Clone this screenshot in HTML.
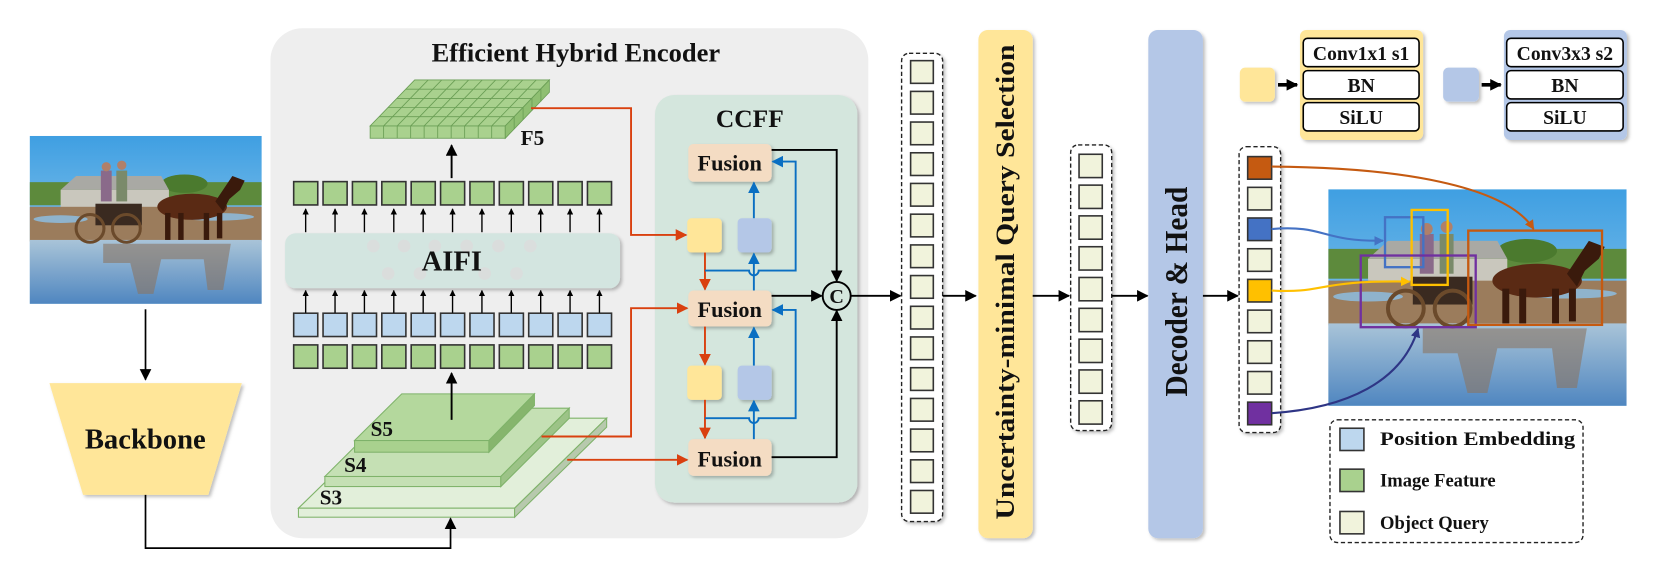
<!DOCTYPE html>
<html><head><meta charset="utf-8"><style>
html,body{margin:0;padding:0;background:#fff;}
svg{display:block;}
text{font-family:"Liberation Serif",serif;font-weight:bold;fill:#111;}
</style></head><body>
<svg width="1663" height="563" viewBox="0 0 1568 531" preserveAspectRatio="none" xmlns="http://www.w3.org/2000/svg">
<defs>
<marker id="ak" viewBox="0 0 10 10" refX="9" refY="5" markerWidth="6" markerHeight="6" orient="auto-start-reverse" markerUnits="userSpaceOnUse"><path d="M0,0L10,5L0,10z" fill="#000"/></marker>
<marker id="akb" viewBox="0 0 10 10" refX="9" refY="5" markerWidth="11" markerHeight="11" orient="auto" markerUnits="userSpaceOnUse"><path d="M0,0L10,5L0,10z" fill="#000"/></marker>
<marker id="ar" viewBox="0 0 10 10" refX="9" refY="5" markerWidth="11" markerHeight="11" orient="auto" markerUnits="userSpaceOnUse"><path d="M0,0L10,5L0,10z" fill="#d9400f"/></marker>
<marker id="ab" viewBox="0 0 10 10" refX="9" refY="5" markerWidth="11" markerHeight="11" orient="auto" markerUnits="userSpaceOnUse"><path d="M0,0L10,5L0,10z" fill="#0a6fc2"/></marker>
<marker id="ao" viewBox="0 0 10 10" refX="9" refY="5" markerWidth="9" markerHeight="9" orient="auto" markerUnits="userSpaceOnUse"><path d="M0,0L10,5L0,10z" fill="#c55a11"/></marker>
<marker id="abl" viewBox="0 0 10 10" refX="9" refY="5" markerWidth="9" markerHeight="9" orient="auto" markerUnits="userSpaceOnUse"><path d="M0,0L10,5L0,10z" fill="#4472c4"/></marker>
<marker id="ay" viewBox="0 0 10 10" refX="9" refY="5" markerWidth="9" markerHeight="9" orient="auto" markerUnits="userSpaceOnUse"><path d="M0,0L10,5L0,10z" fill="#ffc000"/></marker>
<marker id="ap" viewBox="0 0 10 10" refX="9" refY="5" markerWidth="9" markerHeight="9" orient="auto" markerUnits="userSpaceOnUse"><path d="M0,0L10,5L0,10z" fill="#2e3585"/></marker>
<linearGradient id="sky" x1="0" y1="0" x2="0" y2="1"><stop offset="0" stop-color="#3f9fe2"/><stop offset="1" stop-color="#a5d3ee"/></linearGradient>
<linearGradient id="water" x1="0" y1="0" x2="0" y2="1"><stop offset="0" stop-color="#a9c4d8"/><stop offset="1" stop-color="#4f86c0"/></linearGradient>
<filter id="sh" x="-10%" y="-10%" width="130%" height="130%"><feDropShadow dx="2" dy="2" stdDeviation="1.5" flood-color="#000" flood-opacity="0.25"/></filter>
<g id="scene">
<rect x="0" y="0" width="300" height="218" fill="url(#sky)"/>
<rect x="0" y="60" width="300" height="30" fill="#5d8a3c"/>
<ellipse cx="200" cy="62" rx="30" ry="12" fill="#4b7a2e"/>
<polygon points="40,70 60,52 170,52 180,70" fill="#a9a9a4"/>
<rect x="40" y="70" width="140" height="25" fill="#c9c7bd"/>
<rect x="0" y="92" width="300" height="45" fill="#9b7c5c"/>
<ellipse cx="240" cy="105" rx="50" ry="5" fill="#8fb3cc"/>
<ellipse cx="40" cy="108" rx="35" ry="5" fill="#8fb3cc"/>
<rect x="0" y="135" width="300" height="83" fill="url(#water)"/>
<path d="M95,140 L260,140 L250,200 L230,200 L225,160 L170,160 L160,205 L140,205 L130,165 L95,165z" fill="#8a7462" opacity="0.6"/>
<rect x="85" y="88" width="60" height="28" fill="#3a2a20"/>
<circle cx="78" cy="120" r="18" fill="none" stroke="#6b4a2b" stroke-width="4"/>
<circle cx="125" cy="120" r="18" fill="none" stroke="#6b4a2b" stroke-width="4"/>
<rect x="92" y="45" width="14" height="40" fill="#8a6a8a"/>
<rect x="112" y="45" width="14" height="40" fill="#7a8a6a"/>
<circle cx="99" cy="40" r="6" fill="#b0806a"/><circle cx="119" cy="38" r="6" fill="#b0806a"/>
<ellipse cx="210" cy="92" rx="45" ry="17" fill="#5a2a14"/>
<path d="M240,85 L262,52 L278,58 L272,70 L258,82 L250,98z" fill="#3a1a0c"/>
<rect x="175" y="100" width="7" height="35" fill="#3a1a0c"/><rect x="192" y="100" width="7" height="35" fill="#3a1a0c"/>
<rect x="225" y="100" width="7" height="35" fill="#3a1a0c"/><rect x="242" y="100" width="7" height="33" fill="#3a1a0c"/>
</g>
</defs>

<!-- left photo -->
<svg x="28" y="128.2" width="218.8" height="158.4" viewBox="0 0 300 218" preserveAspectRatio="none"><use href="#scene"/></svg>
<line x1="137.2" y1="291.7" x2="137.2" y2="358" stroke="#000" stroke-width="1.6" marker-end="url(#akb)"/>
<polygon points="46.6,361.4 228,361.4 196.4,466.7 78.3,466.7" fill="#ffe699" filter="url(#sh)"/>
<text x="137" y="423" font-size="27" text-anchor="middle">Backbone</text>

<!-- encoder -->
<rect x="255" y="26.7" width="563.7" height="480.9" rx="30" fill="#eeeeee"/>
<text x="543" y="58" font-size="25" text-anchor="middle">Efficient Hybrid Encoder</text>

<!-- F5 -->
<g stroke="#6a9e55" stroke-width="0.8">
<polygon points="349,118.8 476.4,118.8 518,75.4 391,75.4" fill="#a9d18e"/>
<rect x="349" y="118.8" width="127.4" height="11.6" fill="#a9d18e"/>
<polygon points="476.4,118.8 518,75.4 518,87 476.4,130.4" fill="#8fbf72"/>
<g fill="none">
<path d="M361.7,118.8L403.7,75.4M374.5,118.8L416.5,75.4M387.2,118.8L429.2,75.4M399.9,118.8L441.9,75.4M412.7,118.8L454.7,75.4M425.4,118.8L467.4,75.4M438.1,118.8L480.1,75.4M450.9,118.8L492.9,75.4M463.6,118.8L505.6,75.4"/>
<path d="M357.4,110.1L484.8,110.1M365.8,101.4L493.2,101.4M374.2,92.8L501.6,92.8M382.6,84.1L510,84.1"/>
<path d="M361.7,118.8V130.4M374.5,118.8V130.4M387.2,118.8V130.4M399.9,118.8V130.4M412.7,118.8V130.4M425.4,118.8V130.4M438.1,118.8V130.4M450.9,118.8V130.4M463.6,118.8V130.4"/>
<path d="M484.8,110.1V121.7M493.2,101.4V113M501.6,92.8V104.4M510,84.1V95.7"/>
</g></g>
<text x="502" y="137" font-size="20" text-anchor="middle">F5</text>
<line x1="425.8" y1="168" x2="425.8" y2="137" stroke="#000" stroke-width="1.8" marker-end="url(#akb)"/>

<!-- token rows -->
<g stroke="#333" stroke-width="1.5">
<g fill="#a9d18e">
<rect x="276.9" y="171.3" width="22.7" height="22"/><rect x="304.6" y="171.3" width="22.7" height="22"/><rect x="332.3" y="171.3" width="22.7" height="22"/><rect x="360" y="171.3" width="22.7" height="22"/><rect x="387.7" y="171.3" width="22.7" height="22"/><rect x="415.4" y="171.3" width="22.7" height="22"/><rect x="443.1" y="171.3" width="22.7" height="22"/><rect x="470.8" y="171.3" width="22.7" height="22"/><rect x="498.5" y="171.3" width="22.7" height="22"/><rect x="526.2" y="171.3" width="22.7" height="22"/><rect x="553.9" y="171.3" width="22.7" height="22"/>
<rect x="276.9" y="325.3" width="22.7" height="22"/><rect x="304.6" y="325.3" width="22.7" height="22"/><rect x="332.3" y="325.3" width="22.7" height="22"/><rect x="360" y="325.3" width="22.7" height="22"/><rect x="387.7" y="325.3" width="22.7" height="22"/><rect x="415.4" y="325.3" width="22.7" height="22"/><rect x="443.1" y="325.3" width="22.7" height="22"/><rect x="470.8" y="325.3" width="22.7" height="22"/><rect x="498.5" y="325.3" width="22.7" height="22"/><rect x="526.2" y="325.3" width="22.7" height="22"/><rect x="553.9" y="325.3" width="22.7" height="22"/>
</g>
<g fill="#bdd7ee">
<rect x="276.9" y="295.4" width="22.7" height="22"/><rect x="304.6" y="295.4" width="22.7" height="22"/><rect x="332.3" y="295.4" width="22.7" height="22"/><rect x="360" y="295.4" width="22.7" height="22"/><rect x="387.7" y="295.4" width="22.7" height="22"/><rect x="415.4" y="295.4" width="22.7" height="22"/><rect x="443.1" y="295.4" width="22.7" height="22"/><rect x="470.8" y="295.4" width="22.7" height="22"/><rect x="498.5" y="295.4" width="22.7" height="22"/><rect x="526.2" y="295.4" width="22.7" height="22"/><rect x="553.9" y="295.4" width="22.7" height="22"/>
</g></g>
<g stroke="#000" stroke-width="1.3" marker-end="url(#ak)">
<path d="M288.2,219V197"/><path d="M315.9,219V197"/><path d="M343.6,219V197"/><path d="M371.3,219V197"/><path d="M399,219V197"/><path d="M426.7,219V197"/><path d="M454.4,219V197"/><path d="M482.1,219V197"/><path d="M509.8,219V197"/><path d="M537.5,219V197"/><path d="M565.2,219V197"/>
<path d="M288.2,295V274"/><path d="M315.9,295V274"/><path d="M343.6,295V274"/><path d="M371.3,295V274"/><path d="M399,295V274"/><path d="M426.7,295V274"/><path d="M454.4,295V274"/><path d="M482.1,295V274"/><path d="M509.8,295V274"/><path d="M537.5,295V274"/><path d="M565.2,295V274"/>
</g>
<rect x="268.8" y="220" width="315.8" height="51.9" rx="10" fill="#d3e5e0" filter="url(#sh)"/>
<g fill="#dcdcdc" opacity="0.8">
<circle cx="352" cy="232" r="6"/><circle cx="381" cy="232" r="6"/><circle cx="410" cy="232" r="6"/><circle cx="440" cy="232" r="6"/><circle cx="470" cy="232" r="6"/><circle cx="500" cy="232" r="6"/>
<circle cx="366" cy="258" r="6"/><circle cx="396" cy="258" r="6"/><circle cx="457" cy="258" r="6"/><circle cx="487" cy="258" r="6"/>
</g>
<text x="426" y="255" font-size="27" text-anchor="middle">AIFI</text>

<!-- S layers -->
<g stroke="#7fb36a" stroke-width="1">
<polygon points="281.4,479.3 368.5,394.4 572,394.4 485.2,479.3" fill="#e2efda"/>
<rect x="281.4" y="479.3" width="203.8" height="8.5" fill="#e2efda"/>
<polygon points="485.2,479.3 572,394.4 572,402.9 485.2,487.8" fill="#b7c9ad"/>
<polygon points="306.3,449.4 371,385 536.7,385 472.2,449.4" fill="#c5e0b4"/>
<rect x="306.3" y="449.4" width="165.9" height="9.5" fill="#c5e0b4"/>
<polygon points="472.2,449.4 536.7,385 536.7,394.5 472.2,458.9" fill="#9cc387"/>
<polygon points="334.3,415.5 378.8,371.5 503.9,371.5 461,415.5" fill="#b4d89d"/>
<rect x="334.3" y="415.5" width="126.7" height="11" fill="#a9d18e"/>
<polygon points="461,415.5 503.9,371.5 503.9,382.5 461,426.5" fill="#86b56d"/>
</g>
<line x1="425.8" y1="396" x2="425.8" y2="352" stroke="#000" stroke-width="1.8" marker-end="url(#akb)"/>
<polyline points="137.2,466.7 137.2,517 424.8,517 424.8,489" fill="none" stroke="#000" stroke-width="1.6" marker-end="url(#akb)"/>
<text x="360" y="411" font-size="20" text-anchor="middle">S5</text>
<text x="335" y="445" font-size="20" text-anchor="middle">S4</text>
<text x="312" y="476" font-size="20" text-anchor="middle">S3</text>

<!-- CCFF -->
<rect x="617.6" y="89.6" width="190.8" height="384.4" rx="18" fill="#d4e6dd" filter="url(#sh)"/>
<text x="707" y="120" font-size="24" text-anchor="middle">CCFF</text>
<g fill="#f4dcc3" filter="url(#sh)">
<rect x="649" y="135.8" width="78.5" height="35.5" rx="5"/>
<rect x="649" y="274" width="78.5" height="34" rx="5"/>
<rect x="649" y="414.2" width="78.5" height="34.6" rx="5"/>
</g>
<text x="688" y="161" font-size="21" text-anchor="middle">Fusion</text>
<text x="688" y="299" font-size="21" text-anchor="middle">Fusion</text>
<text x="688" y="440" font-size="21" text-anchor="middle">Fusion</text>
<g filter="url(#sh)">
<rect x="648" y="205.8" width="32.5" height="32.4" rx="4" fill="#ffe699"/>
<rect x="695.5" y="205.8" width="32" height="32.4" rx="4" fill="#b4c7e7"/>
<rect x="648" y="344.8" width="32.5" height="32.3" rx="4" fill="#ffe699"/>
<rect x="695.5" y="344.8" width="32" height="32.3" rx="4" fill="#b4c7e7"/>
</g>
<!-- red -->
<g fill="none" stroke="#d9400f" stroke-width="1.8" marker-end="url(#ar)">
<polyline points="500.7,102 595,102 595,221.6 647,221.6"/>
<polyline points="510.6,411.7 595,411.7 595,290.7 648,290.7"/>
<polyline points="534.8,433.7 648,433.7"/>
<polyline points="664.7,238.2 664.7,273"/>
<polyline points="664.7,308 664.7,343.8"/>
<polyline points="664.7,377.1 664.7,413.2"/>
</g>
<!-- blue -->
<g fill="none" stroke="#0a6fc2" stroke-width="1.8" marker-end="url(#ab)">
<polyline points="710.8,205.8 710.8,172.3"/>
<polyline points="710.8,274 710.8,239.2"/>
<path d="M664.7,255.2 H706.3 A4.5,4.5 0 0 0 715.3,255.2 H750.2 V152.4 H728.5"/>
<polyline points="710.8,344.8 710.8,309"/>
<polyline points="710.8,414.2 710.8,378.1"/>
<path d="M664.7,394.4 H706.3 A4.5,4.5 0 0 0 715.3,394.4 H750.2 V292.3 H728.5"/>
</g>
<!-- black to C -->
<g fill="none" stroke="#000" stroke-width="1.8" marker-end="url(#akb)">
<polyline points="727.5,141.4 788.9,141.4 788.9,265"/>
<polyline points="727.5,279 774.7,279"/>
<polyline points="727.5,431.2 788.9,431.2 788.9,293"/>
<polyline points="802.1,279 849,279"/>
</g>
<circle cx="788.9" cy="279.1" r="13.2" fill="#d4e6dd" stroke="#000" stroke-width="1.8"/>
<text x="788.9" y="286" font-size="19" text-anchor="middle">C</text>

<!-- query column 1 -->
<rect x="850.1" y="50.3" width="38.7" height="441.6" rx="7" fill="#fff" stroke="#222" stroke-width="1.3" stroke-dasharray="4,2.5" filter="url(#sh)"/>
<g fill="#f1f3dc" stroke="#333" stroke-width="1.5">
<rect x="858.6" y="57.2" width="21.4" height="21.4"/><rect x="858.6" y="86.2" width="21.4" height="21.4"/><rect x="858.6" y="115.1" width="21.4" height="21.4"/><rect x="858.6" y="144.1" width="21.4" height="21.4"/><rect x="858.6" y="173" width="21.4" height="21.4"/><rect x="858.6" y="202" width="21.4" height="21.4"/><rect x="858.6" y="231" width="21.4" height="21.4"/><rect x="858.6" y="259.9" width="21.4" height="21.4"/><rect x="858.6" y="288.9" width="21.4" height="21.4"/><rect x="858.6" y="317.8" width="21.4" height="21.4"/><rect x="858.6" y="346.8" width="21.4" height="21.4"/><rect x="858.6" y="375.8" width="21.4" height="21.4"/><rect x="858.6" y="404.7" width="21.4" height="21.4"/><rect x="858.6" y="433.7" width="21.4" height="21.4"/><rect x="858.6" y="462.6" width="21.4" height="21.4"/>
</g>
<line x1="888.8" y1="279" x2="920" y2="279" stroke="#000" stroke-width="1.8" marker-end="url(#akb)"/>
<rect x="922.5" y="28.3" width="51.2" height="479.3" rx="9" fill="#ffe699" filter="url(#sh)"/>
<text transform="translate(956,266) rotate(-90)" font-size="25" text-anchor="middle" textLength="448" lengthAdjust="spacingAndGlyphs">Uncertainty-minimal Query Selection</text>
<line x1="973.7" y1="279" x2="1008" y2="279" stroke="#000" stroke-width="1.8" marker-end="url(#akb)"/>

<!-- query column 2 -->
<rect x="1009.5" y="136.7" width="38.7" height="269.4" rx="7" fill="#fff" stroke="#222" stroke-width="1.3" stroke-dasharray="4,2.5" filter="url(#sh)"/>
<g fill="#f1f3dc" stroke="#333" stroke-width="1.5">
<rect x="1017.4" y="145.5" width="21.9" height="22"/><rect x="1017.4" y="174.6" width="21.9" height="22"/><rect x="1017.4" y="203.6" width="21.9" height="22"/><rect x="1017.4" y="232.7" width="21.9" height="22"/><rect x="1017.4" y="261.7" width="21.9" height="22"/><rect x="1017.4" y="290.8" width="21.9" height="22"/><rect x="1017.4" y="319.9" width="21.9" height="22"/><rect x="1017.4" y="348.9" width="21.9" height="22"/><rect x="1017.4" y="378" width="21.9" height="22"/>
</g>
<line x1="1048.2" y1="279" x2="1082" y2="279" stroke="#000" stroke-width="1.8" marker-end="url(#akb)"/>
<rect x="1082.7" y="28.3" width="51.5" height="479.3" rx="9" fill="#b4c7e7" filter="url(#sh)"/>
<text transform="translate(1119,275) rotate(-90)" font-size="30" text-anchor="middle" textLength="198" lengthAdjust="spacingAndGlyphs">Decoder &amp; Head</text>
<line x1="1134.2" y1="279" x2="1167" y2="279" stroke="#000" stroke-width="1.8" marker-end="url(#akb)"/>

<!-- query column 3 -->
<rect x="1168.3" y="138.3" width="39.2" height="269.7" rx="7" fill="#fff" stroke="#222" stroke-width="1.3" stroke-dasharray="4,2.5" filter="url(#sh)"/>
<g stroke="#333" stroke-width="1.5">
<rect x="1176.4" y="147.7" width="22.6" height="21.3" fill="#c55a11"/>
<rect x="1176.4" y="176.7" width="22.6" height="21.3" fill="#f1f3dc"/>
<rect x="1176.4" y="205.6" width="22.6" height="21.3" fill="#4472c4"/>
<rect x="1176.4" y="234.6" width="22.6" height="21.3" fill="#f1f3dc"/>
<rect x="1176.4" y="263.5" width="22.6" height="21.3" fill="#ffc000"/>
<rect x="1176.4" y="292.5" width="22.6" height="21.3" fill="#f1f3dc"/>
<rect x="1176.4" y="321.4" width="22.6" height="21.3" fill="#f1f3dc"/>
<rect x="1176.4" y="350.4" width="22.6" height="21.3" fill="#f1f3dc"/>
<rect x="1176.4" y="379.3" width="22.6" height="21.3" fill="#7030a0"/>
</g>

<!-- conv legends -->
<rect x="1169" y="63.8" width="33" height="32.1" rx="5" fill="#ffe699" filter="url(#sh)"/>
<line x1="1205" y1="80" x2="1223" y2="80" stroke="#000" stroke-width="3.5" marker-end="url(#akb)"/>
<rect x="1225.7" y="28.3" width="116.1" height="103.7" rx="6" fill="#ffe699" filter="url(#sh)"/>
<g fill="#fff" stroke="#000" stroke-width="1.5">
<rect x="1228.8" y="36.1" width="109.2" height="26.8" rx="4"/><rect x="1228.8" y="66.6" width="109.2" height="26.7" rx="4"/><rect x="1228.8" y="96.8" width="109.2" height="26.7" rx="4"/>
</g>
<text x="1283.4" y="56.5" font-size="18.5" text-anchor="middle">Conv1x1 s1</text>
<text x="1283.4" y="87" font-size="18.5" text-anchor="middle">BN</text>
<text x="1283.4" y="117" font-size="18.5" text-anchor="middle">SiLU</text>
<rect x="1360.7" y="63.8" width="33.8" height="32.1" rx="5" fill="#b4c7e7" filter="url(#sh)"/>
<line x1="1397" y1="80" x2="1415" y2="80" stroke="#000" stroke-width="3.5" marker-end="url(#akb)"/>
<rect x="1418" y="28.3" width="116" height="103.7" rx="6" fill="#b4c7e7" filter="url(#sh)"/>
<g fill="#fff" stroke="#000" stroke-width="1.5">
<rect x="1420.6" y="36.1" width="109.8" height="26.8" rx="4"/><rect x="1420.6" y="66.6" width="109.8" height="26.7" rx="4"/><rect x="1420.6" y="96.8" width="109.8" height="26.7" rx="4"/>
</g>
<text x="1475.5" y="56.5" font-size="18.5" text-anchor="middle">Conv3x3 s2</text>
<text x="1475.5" y="87" font-size="18.5" text-anchor="middle">BN</text>
<text x="1475.5" y="117" font-size="18.5" text-anchor="middle">SiLU</text>

<!-- right photo -->
<svg x="1252.4" y="178.5" width="281.3" height="204.3" viewBox="0 0 300 218" preserveAspectRatio="none"><use href="#scene"/></svg>
<g fill="none" stroke-width="2.2">
<rect x="1305.9" y="204.9" width="36.1" height="47.1" stroke="#4472c4"/>
<rect x="1331" y="198" width="34" height="70.7" stroke="#ffc000"/>
<rect x="1283" y="241" width="108.4" height="67.6" stroke="#7030a0"/>
<rect x="1384.4" y="217.5" width="126.1" height="88.9" stroke="#c55a11"/>
</g>
<g fill="none" stroke-width="2">
<path d="M1199,157.1 C1320,158 1420,175 1446,216" stroke="#c55a11" marker-end="url(#ao)"/>
<path d="M1199,216 C1250,212 1245,228 1304,227" stroke="#4472c4" marker-end="url(#abl)"/>
<path d="M1199,274 C1250,277 1240,264 1329,265.6" stroke="#ffc000" marker-end="url(#ay)"/>
<path d="M1199,389.7 C1270,385 1322,360 1337,310" stroke="#2e3585" marker-end="url(#ap)"/>
</g>

<!-- legend -->
<rect x="1254" y="396" width="238.6" height="115.7" rx="7" fill="#fff" stroke="#222" stroke-width="1.3" stroke-dasharray="4,2.5"/>
<g stroke="#333" stroke-width="1.5">
<rect x="1263.4" y="403.9" width="22.6" height="21" fill="#bdd7ee"/>
<rect x="1263.4" y="442.5" width="22.6" height="21.1" fill="#a9d18e"/>
<rect x="1263.4" y="482.4" width="22.6" height="21.1" fill="#f1f3dc"/>
</g>
<text x="1301.2" y="419.6" font-size="17.5" textLength="184" lengthAdjust="spacingAndGlyphs">Position Embedding</text>
<text x="1301.2" y="459" font-size="17.5">Image Feature</text>
<text x="1301.2" y="499" font-size="17.5">Object Query</text>
</svg>
</body></html>
